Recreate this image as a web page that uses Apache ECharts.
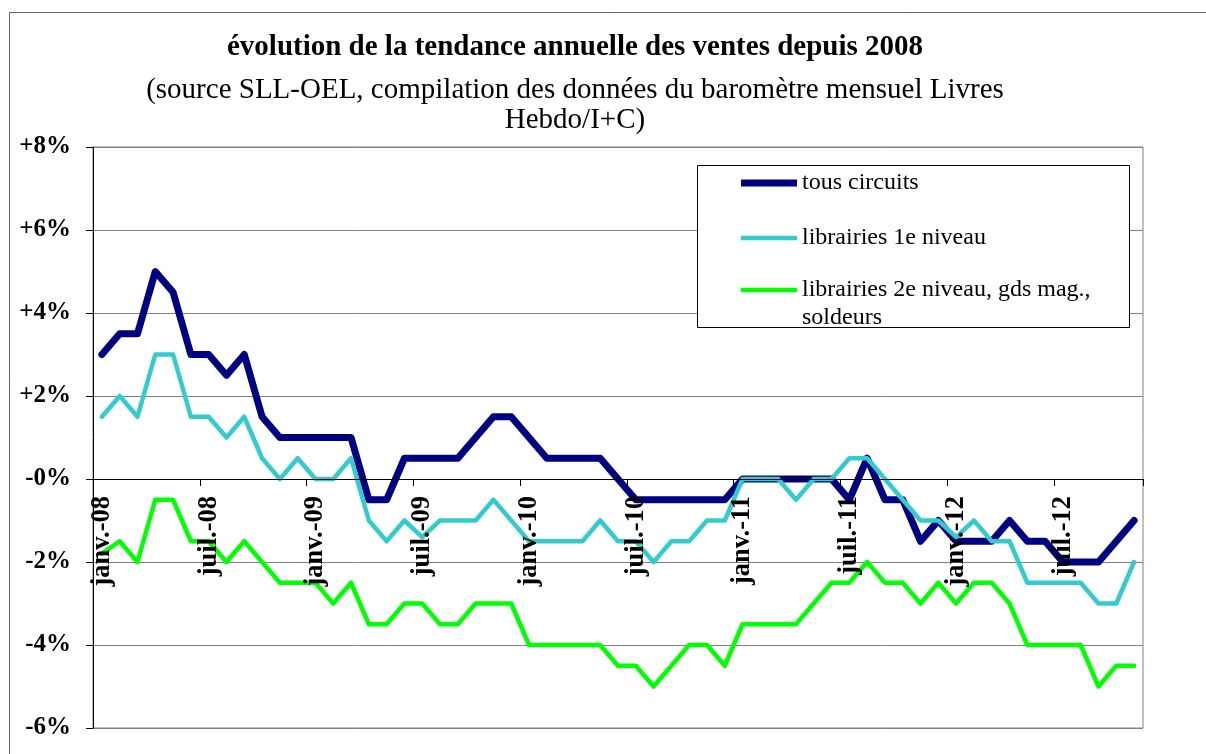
<!DOCTYPE html>
<html>
<head>
<meta charset="utf-8">
<title>évolution de la tendance annuelle des ventes</title>
<script src="https://cdn.jsdelivr.net/npm/echarts@6/dist/echarts.min.js"></script>
<style>
  html, body { margin: 0; padding: 0; background: #fff; }
  #chart { width: 1206px; height: 754px; }
</style>
</head>
<body>
<div id="chart"></div>
<script>
// mois de janv.-08 à nov.-12
const monthNames = ['janv.', 'févr.', 'mars', 'avr.', 'mai', 'juin', 'juil.', 'août', 'sept.', 'oct.', 'nov.', 'déc.'];
const years = ['08', '09', '10', '11', '12'];
const monthCount = 59;

const tousCircuits = [
  3.0, 3.5, 3.5, 5.0, 4.5, 3.0, 3.0, 2.5, 3.0, 1.5, 1.0, 1.0,
  1.0, 1.0, 1.0, -0.5, -0.5, 0.5, 0.5, 0.5, 0.5, 1.0, 1.5, 1.5,
  1.0, 0.5, 0.5, 0.5, 0.5, 0.0, -0.5, -0.5, -0.5, -0.5, -0.5, -0.5,
  0.0, 0.0, 0.0, 0.0, 0.0, 0.0, -0.5, 0.5, -0.5, -0.5, -1.5, -1.0,
  -1.5, -1.5, -1.5, -1.0, -1.5, -1.5, -2.0, -2.0, -2.0, -1.5, -1.0
];
const librairies1 = [
  1.5, 2.0, 1.5, 3.0, 3.0, 1.5, 1.5, 1.0, 1.5, 0.5, 0.0, 0.5,
  0.0, 0.0, 0.5, -1.0, -1.5, -1.0, -1.4, -1.0, -1.0, -1.0, -0.5, -1.0,
  -1.5, -1.5, -1.5, -1.5, -1.0, -1.5, -1.5, -2.0, -1.5, -1.5, -1.0, -1.0,
  0.0, 0.0, 0.0, -0.5, 0.0, 0.0, 0.5, 0.5, 0.0, -0.5, -1.0, -1.0,
  -1.4, -1.0, -1.5, -1.5, -2.5, -2.5, -2.5, -2.5, -3.0, -3.0, -2.0
];
const librairies2 = [
  -1.8, -1.5, -2.0, -0.5, -0.5, -1.5, -1.5, -2.0, -1.5, -2.0, -2.5, -2.5,
  -2.5, -3.0, -2.5, -3.5, -3.5, -3.0, -3.0, -3.5, -3.5, -3.0, -3.0, -3.0,
  -4.0, -4.0, -4.0, -4.0, -4.0, -4.5, -4.5, -5.0, -4.5, -4.0, -4.0, -4.5,
  -3.5, -3.5, -3.5, -3.5, -3.0, -2.5, -2.5, -2.0, -2.5, -2.5, -3.0, -2.5,
  -3.0, -2.5, -2.5, -3.0, -4.0, -4.0, -4.0, -4.0, -5.0, -4.5, -4.5
];
const yMin = -6;
const yMax = 8;
const yTicks = [-6, -4, -2, 0, 2, 4, 6, 8];
const yTickLabels = ['-6%', '-4%', '-2%', '-0%', '+2%', '+4%', '+6%', '+8%'];

const seriesNames = ['tous circuits', 'librairies 1e niveau', 'librairies 2e niveau, gds mag., soldeurs'];
const seriesColors = ['#000080', '#33CCCC', '#00FF00'];
const lineWidths = [7, 4.5, 4.5];

const months = [];
for (let i = 0; i < monthCount; i++) {
  months.push(monthNames[i % 12] + '-' + years[Math.floor(i / 12)]);
}

const serif = '"Liberation Serif", "Times New Roman", serif';
const chart = echarts.init(document.getElementById('chart'));

const gridTop = 147;
const gridBottom = 26;
const gridHeight = 754 - gridTop - gridBottom;
// l'axe des mois passe par 0 % (onZero ne prend pas ici, on décale l'axe)
const zeroOffset = -gridHeight * (0 - yMin) / (yMax - yMin);

// une légende par série, pour placer chaque ligne comme dans l'original
function legendFor(k, top, text) {
  return {
    data: [seriesNames[k]],
    orient: 'vertical',
    left: 741,
    top: top,
    padding: 0,
    icon: 'rect',
    itemWidth: 56,
    itemHeight: lineWidths[k],
    z: 10,
    formatter: text ? function () { return text; } : '{name}',
    textStyle: { fontFamily: serif, fontSize: 24, color: '#000', lineHeight: 28 }
  };
}

const option = {
  backgroundColor: '#fff',
  animation: false,
  title: {
    text: 'évolution de la tendance annuelle des ventes depuis 2008',
    subtext: '(source SLL-OEL, compilation des données du baromètre mensuel Livres\nHebdo/I+C)',
    left: 570,
    top: 28,
    textAlign: 'center',
    itemGap: 12,
    textStyle: { fontFamily: serif, fontWeight: 'bold', fontSize: 29, color: '#000', lineHeight: 30 },
    subtextStyle: { fontFamily: serif, fontSize: 29, color: '#000', lineHeight: 30 }
  },
  graphic: [
    {
      type: 'rect',
      shape: { x: 9.5, y: 12.5, width: 1220, height: 780 },
      style: { fill: 'none', stroke: '#666', lineWidth: 1 },
      silent: true
    },
    {
      type: 'rect',
      shape: { x: 697.5, y: 165.5, width: 432, height: 162 },
      style: { fill: '#fff', stroke: '#000', lineWidth: 1 },
      z: 5,
      silent: true
    }
  ],
  legend: [
    legendFor(0, 169),
    legendFor(1, 224),
    legendFor(2, 248, '\nlibrairies 2e niveau, gds mag.,\nsoldeurs')
  ],
  grid: {
    left: 93,
    right: 63,
    top: gridTop,
    bottom: gridBottom,
    show: true,
    borderColor: '#808080',
    borderWidth: 1,
    containLabel: false,
    outerBoundsMode: 'none'
  },
  xAxis: {
    type: 'category',
    data: months,
    boundaryGap: true,
    position: 'bottom',
    offset: zeroOffset,
    z: 4,
    axisLine: { onZero: false, lineStyle: { color: '#000', width: 1 } },
    axisTick: { show: true, interval: 5, length: 7, inside: false, lineStyle: { color: '#000' } },
    axisLabel: {
      interval: 5,
      rotate: 90,
      margin: 17,
      fontFamily: serif,
      fontWeight: 'bold',
      fontSize: 26.5,
      color: '#000'
    },
    splitLine: { show: false }
  },
  yAxis: {
    type: 'value',
    min: yMin,
    max: yMax,
    interval: 2,
    axisLine: { show: true, lineStyle: { color: '#000', width: 1 } },
    axisTick: { show: true, length: 7, inside: false, lineStyle: { color: '#000' } },
    axisLabel: {
      margin: 22,
      fontFamily: serif,
      fontWeight: 'bold',
      fontSize: 25,
      color: '#000',
      formatter: function (v) {
        const k = yTicks.indexOf(v);
        return k >= 0 ? yTickLabels[k] : '';
      }
    },
    splitLine: { show: true, lineStyle: { color: '#808080', width: 1 } }
  },
  series: [0, 1, 2].map(function (k) {
    return {
      name: seriesNames[k],
      type: 'line',
      data: [tousCircuits, librairies1, librairies2][k],
      symbol: 'none',
      lineStyle: { color: seriesColors[k], width: lineWidths[k], join: 'round', cap: 'round' },
      itemStyle: { color: seriesColors[k] }
    };
  })
};

chart.setOption(option);
</script>
</body>
</html>
